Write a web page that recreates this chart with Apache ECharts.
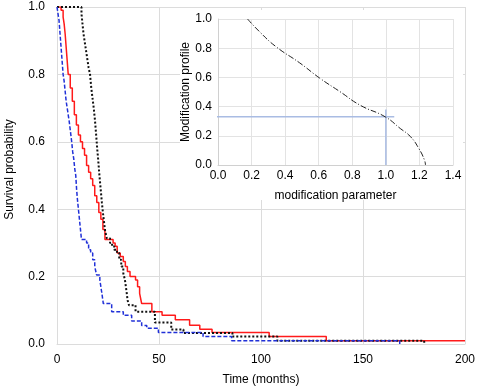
<!DOCTYPE html>
<html>
<head>
<meta charset="utf-8">
<script src="https://cdn.jsdelivr.net/npm/echarts@6/dist/echarts.min.js"></script>
<style>
  html, body { margin: 0; padding: 0; background: #fff; }
  #chart { width: 478px; height: 389px; }
</style>
</head>
<body>
<div id="chart"></div>
<script>
// Kaplan-Meier curves: [time (months), survival] at each step
var redSteps = [[0,1],[2,0.99],[3,0.97],[3.5,0.95],[4,0.92],[4.5,0.88],[5,0.84],[5.5,0.8],[6.5,0.76],[7.5,0.72],
  [8.5,0.68],[9.5,0.65],[10.5,0.62],[11.5,0.6],[12.5,0.58],[13.5,0.56],[14.5,0.53],[15.5,0.51],[16.5,0.49],
  [17.5,0.47],[18.5,0.44],[19.5,0.42],[20.5,0.39],[21.5,0.37],[22.5,0.34],[23.5,0.31],[27.5,0.3],[28.5,0.29],
  [29.5,0.27],[31,0.26],[32.5,0.245],[33.5,0.23],[34.5,0.215],[35.8,0.2],[38.5,0.19],[39.5,0.17],[40.5,0.15],
  [41,0.135],[41.5,0.12],[46.5,0.096],[51.5,0.085],[58,0.072],[65,0.056],[70,0.044],[76,0.034],[104,0.022],
  [132,0.01],[200,0.01]];

var blackSteps = [[0,1],[12,0.98],[12.5,0.95],[13,0.92],[13.5,0.9],[14,0.88],[14.5,0.86],[15,0.84],[15.5,0.82],
  [16.2,0.8],[16.8,0.76],[17.4,0.73],[18,0.7],[18.6,0.665],[19.2,0.62],[19.7,0.58],[20.2,0.546],[20.8,0.5],
  [21.4,0.46],[22,0.42],[22.5,0.39],[23,0.365],[23.5,0.338],[24.4,0.314],[26,0.3],[27,0.29],[28,0.28],
  [29.4,0.27],[30.5,0.25],[31.5,0.23],[32.5,0.21],[33.3,0.19],[34.1,0.155],[34.6,0.13],[35.3,0.115],
  [38.5,0.096],[48,0.064],[56,0.043],[62,0.033],[86,0.022],[108,0.01],[180,0]];

var blueSteps = [[0,1],[0.5,0.98],[1,0.96],[1.5,0.92],[2,0.88],[2.5,0.84],[3,0.8],[3.5,0.78],[4,0.75],[4.5,0.72],
  [5,0.7],[5.5,0.68],[6,0.66],[6.6,0.63],[7.2,0.6],[7.7,0.57],[8.2,0.55],[8.7,0.52],[9.2,0.5],[9.6,0.46],
  [10,0.43],[10.5,0.4],[11,0.37],[11.5,0.34],[12,0.31],[14.5,0.3],[15.5,0.28],[16.5,0.27],[17.5,0.25],
  [18.5,0.23],[19.4,0.205],[21,0.19],[21.5,0.17],[22,0.15],[22.7,0.12],[26.8,0.096],[32.5,0.085],
  [36.6,0.068],[41.5,0.055],[44,0.047],[49.7,0.034],[71.6,0.022],[85.6,0.01],[168,0]];

// inset: modification profile vs modification parameter
var insetParam   = [0.176, 0.25, 0.346, 0.486, 0.606, 0.726, 0.846, 0.996, 1.086, 1.146, 1.196, 1.23, 1.236];
var insetProfile = [1.0,   0.91, 0.81,  0.70,  0.595, 0.503, 0.41,  0.33,  0.25,  0.195, 0.114, 0.034, 0.0];

// blue guide lines in the inset
var guideH = [[-0.02, 0.33], [1.05, 0.33]];
var guideV = [[1.0, 0], [1.0, 0.38]];

var font = 'Liberation Sans, Arial, sans-serif';
var gridCol = '#dcdcdc';

function fmt1(v) { return v.toFixed(1); }

var chart = echarts.init(document.getElementById('chart'));

var option = {
  animation: false,
  textStyle: { fontFamily: font },
  grid: [
    { left: 57, right: 13, top: 7, bottom: 45, zlevel: 0, outerBoundsMode: 'none' },
    { left: 218, right: 25, top: 19, bottom: 224, zlevel: 2, outerBoundsMode: 'none' }
  ],
  graphic: [{
    type: 'rect', zlevel: 1,
    shape: { x: 180, y: 10, width: 283, height: 190 },
    style: { fill: '#fff' }
  }],
  xAxis: [{
    gridIndex: 0, type: 'value', min: 0, max: 200, interval: 50, zlevel: 0,
    name: 'Time (months)', nameLocation: 'middle', nameGap: 30,
    nameTextStyle: { color: '#000', fontSize: 12, fontFamily: font },
    axisLine: { show: true, lineStyle: { color: gridCol } },
    axisTick: { show: false },
    axisLabel: { color: '#000', fontSize: 12, margin: 10, fontFamily: font },
    splitLine: { show: true, lineStyle: { color: gridCol, width: 1 } }
  }, {
    gridIndex: 1, type: 'value', min: 0, max: 1.4, interval: 0.2, zlevel: 2,
    name: 'modification parameter', nameLocation: 'middle', nameGap: 25,
    nameTextStyle: { color: '#000', fontSize: 12, fontFamily: font },
    axisLine: { show: true, lineStyle: { color: '#d0d0d0' } },
    axisTick: { show: false },
    axisLabel: { color: '#000', fontSize: 12, margin: 5, formatter: fmt1, fontFamily: font },
    splitLine: { show: true, lineStyle: { color: '#e3e3e3' } }
  }],
  yAxis: [{
    gridIndex: 0, type: 'value', min: 0, max: 1, interval: 0.2, zlevel: 0,
    name: 'Survival probability', nameLocation: 'middle', nameGap: 41, nameRotate: 90,
    nameTextStyle: { color: '#000', fontSize: 12, fontFamily: font, padding: [0, 0, 0, 12] },
    axisLine: { show: true, lineStyle: { color: gridCol } },
    axisTick: { show: false },
    axisLabel: { color: '#000', fontSize: 12, margin: 12, formatter: fmt1, fontFamily: font },
    splitLine: { show: true, lineStyle: { color: gridCol, width: 1 } }
  }, {
    gridIndex: 1, type: 'value', min: 0, max: 1, interval: 0.2, zlevel: 2,
    name: 'Modification profile', nameLocation: 'middle', nameGap: 25, nameRotate: 90,
    nameTextStyle: { color: '#000', fontSize: 12, fontFamily: font },
    axisLine: { show: true, lineStyle: { color: '#d0d0d0' } },
    axisTick: { show: false },
    axisLabel: { color: '#000', fontSize: 12, margin: 6, formatter: fmt1, fontFamily: font },
    splitLine: { show: true, lineStyle: { color: '#e3e3e3' } }
  }],
  series: [
    {
      type: 'line', xAxisIndex: 0, yAxisIndex: 0, step: 'end', showSymbol: false, zlevel: 0,
      data: redSteps, lineStyle: { color: '#ff1a1a', width: 1.5 }
    },
    {
      type: 'line', xAxisIndex: 0, yAxisIndex: 0, step: 'end', showSymbol: false, zlevel: 0,
      data: blackSteps, lineStyle: { color: '#111', width: 2, type: [2, 2] }
    },
    {
      type: 'line', xAxisIndex: 0, yAxisIndex: 0, step: 'end', showSymbol: false, zlevel: 0,
      data: blueSteps, lineStyle: { color: '#2030d8', width: 1.5, type: [4, 2] }
    },
    {
      type: 'line', xAxisIndex: 1, yAxisIndex: 1, showSymbol: false, zlevel: 2, clip: false,
      data: guideH, lineStyle: { color: '#a9bce3', width: 1.5 }
    },
    {
      type: 'line', xAxisIndex: 1, yAxisIndex: 1, showSymbol: false, zlevel: 2,
      data: guideV, lineStyle: { color: '#a9bce3', width: 1.5 }
    },
    {
      type: 'line', xAxisIndex: 1, yAxisIndex: 1, showSymbol: false, zlevel: 2, smooth: true,
      data: insetParam.map(function (p, i) { return [p, insetProfile[i]]; }),
      lineStyle: { color: '#222', width: 1, type: [6, 2, 1, 2] }
    }
  ]
};

chart.setOption(option);
</script>
</body>
</html>
